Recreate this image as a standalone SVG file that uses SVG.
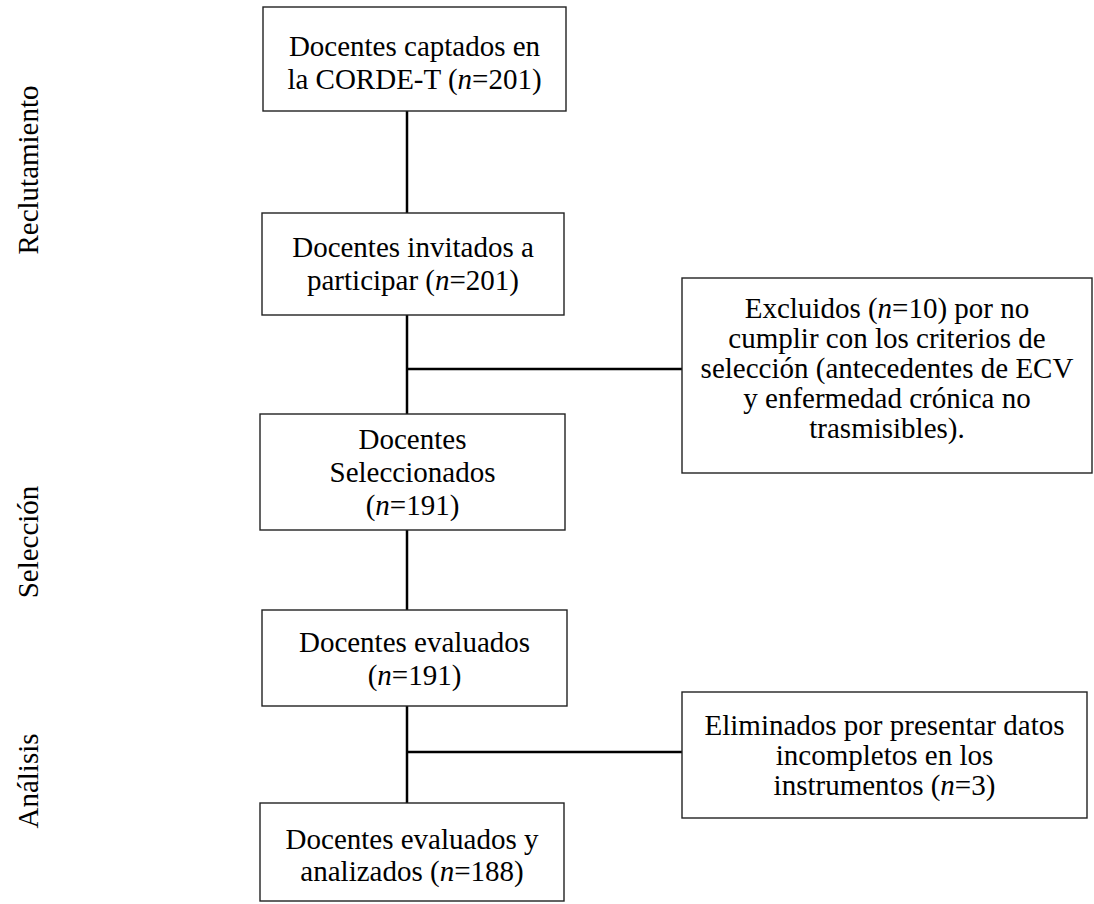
<svg xmlns="http://www.w3.org/2000/svg" width="1094" height="904" viewBox="0 0 1094 904">
  <style>
    .box { fill: #ffffff; stroke: #222222; stroke-width: 1.4; }
    .wire { stroke: #000000; stroke-width: 2.5; fill: none; }
    text { font-family: "Liberation Serif", "Times New Roman", serif; font-size: 29px; fill: #000000; text-anchor: middle; }
    .it { font-style: italic; }
  </style>
  <rect width="1094" height="904" fill="#ffffff"/>

  <!-- stage labels -->
  <g id="stages">
    <text transform="translate(38,170) rotate(-90)">Reclutamiento</text>
    <text transform="translate(38,542) rotate(-90)">Selección</text>
    <text transform="translate(38,781) rotate(-90)">Análisis</text>
  </g>

  <!-- connectors -->
  <g id="connectors" class="wire">
    <line x1="407" y1="111" x2="407" y2="213"/>
    <line x1="407" y1="315" x2="407" y2="414"/>
    <line x1="407" y1="369" x2="682" y2="369"/>
    <line x1="407" y1="530" x2="407" y2="610"/>
    <line x1="407" y1="706" x2="407" y2="803"/>
    <line x1="407" y1="752" x2="682" y2="752"/>
  </g>

  <g id="captados">
    <rect class="box" x="263" y="7" width="303" height="104"/>
    <text x="414.5" y="56">Docentes captados en</text>
    <text x="414.5" y="89">la CORDE-T (<tspan class="it">n</tspan>=201)</text>
  </g>

  <g id="invitados">
    <rect class="box" x="262" y="213" width="302" height="102"/>
    <text x="413" y="257">Docentes invitados a</text>
    <text x="413" y="290">participar (<tspan class="it">n</tspan>=201)</text>
  </g>

  <g id="excluidos">
    <rect class="box" x="682" y="278" width="410" height="195"/>
    <text x="887" y="318">Excluidos (<tspan class="it">n</tspan>=10) por no</text>
    <text x="887" y="348">cumplir con los criterios de</text>
    <text x="887" y="378">selección (antecedentes de ECV</text>
    <text x="887" y="408">y enfermedad crónica no</text>
    <text x="887" y="438">trasmisibles).</text>
  </g>

  <g id="seleccionados">
    <rect class="box" x="260" y="414" width="305" height="116"/>
    <text x="412.5" y="449">Docentes</text>
    <text x="412.5" y="482">Seleccionados</text>
    <text x="412.5" y="515">(<tspan class="it">n</tspan>=191)</text>
  </g>

  <g id="evaluados">
    <rect class="box" x="262" y="610" width="305" height="96"/>
    <text x="414.5" y="652">Docentes evaluados</text>
    <text x="414.5" y="685">(<tspan class="it">n</tspan>=191)</text>
  </g>

  <g id="eliminados">
    <rect class="box" x="682" y="692" width="405" height="126"/>
    <text x="884.5" y="735">Eliminados por presentar datos</text>
    <text x="884.5" y="765">incompletos en los</text>
    <text x="884.5" y="795">instrumentos (<tspan class="it">n</tspan>=3)</text>
  </g>

  <g id="analizados">
    <rect class="box" x="260" y="803" width="304" height="98"/>
    <text x="412" y="849">Docentes evaluados y</text>
    <text x="412" y="881">analizados (<tspan class="it">n</tspan>=188)</text>
  </g>
</svg>
